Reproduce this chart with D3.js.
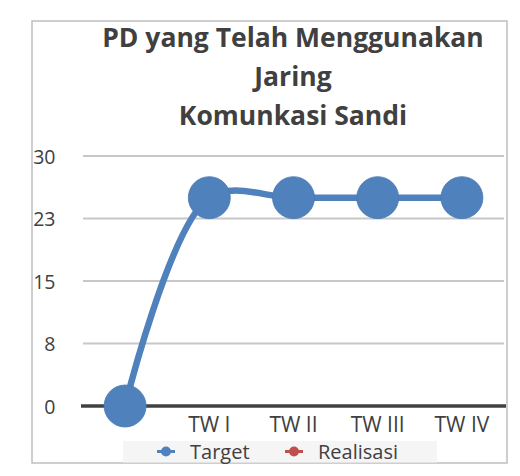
<!DOCTYPE html>
<html>
<head>
<meta charset="utf-8">
<script src="https://cdn.jsdelivr.net/npm/d3@7"></script>
<style>
  html, body { margin: 0; padding: 0; background: #fff; }
  svg { display: block; }
  text { font-family: "Open Sans", Lato, sans-serif; fill: #404040; }
</style>
</head>
<body>
<svg id="chart" width="520" height="476"></svg>
<script>
// Quarterly categories (first slot is the unlabeled starting point)
const categories = ["", "TW I", "TW II", "TW III", "TW IV"];
const target = [0, 25, 25, 25, 25];
const realisasi = [null, null, null, null, null];
const yTicks = [0, 7.5, 15, 22.5, 30];
const yTickLabels = ["0", "8", "15", "23", "30"];
const titleLines = ["PD yang Telah Menggunakan", "Jaring", "Komunkasi Sandi"];
const seriesNames = ["Target", "Realisasi"];
const seriesColors = ["#4f81bd", "#c0504d"];

const FONT = "'Open Sans', Lato, sans-serif";
const svg = d3.select("#chart");

// chart frame
svg.append("rect")
  .attr("x", 32).attr("y", 21)
  .attr("width", 475).attr("height", 442)
  .attr("fill", "#fff")
  .attr("stroke", "#bfbfbf").attr("stroke-width", 1.5);

// title
const title = svg.append("text")
  .attr("text-anchor", "middle")
  .attr("font-weight", "bold")
  .attr("font-size", 26.5);
titleLines.forEach((t, i) => {
  title.append("tspan").attr("x", 293).attr("y", 46.5 + i * 39).text(t);
});

const x = d3.scaleBand().domain(categories).range([83, 504]);
const y = d3.scaleLinear().domain([0, 30]).range([406, 156]);

// horizontal gridlines
svg.append("g").selectAll("line")
  .data(yTicks.filter(v => v !== 0))
  .join("line")
  .attr("x1", 83).attr("x2", 504)
  .attr("y1", d => y(d)).attr("y2", d => y(d))
  .attr("stroke", "#c8c8c8").attr("stroke-width", 2);

// y tick labels
const yAxis = d3.axisLeft(y)
  .tickValues(yTicks)
  .tickFormat((d, i) => yTickLabels[i])
  .tickSize(0).tickPadding(0);
const gy = svg.append("g").attr("transform", "translate(55.5,0)").call(yAxis);
gy.select(".domain").remove();
gy.selectAll("text")
  .attr("font-size", 19.5)
  .attr("fill", "#404040")
  .attr("font-family", FONT)
  .attr("dy", "0.36em");

// category axis at zero
const xAxis = d3.axisBottom(x).tickSize(0).tickPadding(0);
const gx = svg.append("g").attr("transform", `translate(0,${y(0)})`).call(xAxis);
gx.select(".domain")
  .attr("d", `M81,0H506`)
  .attr("stroke", "#404040").attr("stroke-width", 3.5);
gx.selectAll("text")
  .attr("font-size", 21)
  .attr("fill", "#404040")
  .attr("font-family", FONT)
  .attr("dy", 0)
  .attr("y", 26);

const cx = c => x(c) + x.bandwidth() / 2;

// smoothed series lines with markers
[target, realisasi].forEach((vals, si) => {
  const pts = categories.map((c, i) => ({ c, v: vals[i] })).filter(d => d.v != null);
  if (!pts.length) return;
  const line = d3.line()
    .x(d => cx(d.c)).y(d => y(d.v))
    .curve(d3.curveCatmullRom.alpha(0.5));
  svg.append("path")
    .datum(pts)
    .attr("d", line)
    .attr("fill", "none")
    .attr("stroke", seriesColors[si])
    .attr("stroke-width", 6.5)
    .attr("stroke-linejoin", "round");
  svg.append("g").selectAll("circle")
    .data(pts)
    .join("circle")
    .attr("cx", d => cx(d.c)).attr("cy", d => y(d.v))
    .attr("r", 21)
    .attr("fill", seriesColors[si])
    .attr("stroke", "#4a7ab3").attr("stroke-width", 0.8);
});

// legend
const lg = svg.append("g");
lg.append("rect")
  .attr("x", 123).attr("y", 441)
  .attr("width", 314).attr("height", 21.5)
  .attr("fill", "#f5f5f5");
const legendX = [157, 285];
seriesNames.forEach((name, i) => {
  const g = lg.append("g").attr("transform", `translate(${legendX[i]},451.5)`);
  g.append("line").attr("x1", 0).attr("x2", 18)
    .attr("stroke", seriesColors[i]).attr("stroke-width", 3);
  g.append("circle").attr("cx", 9).attr("r", 5).attr("fill", seriesColors[i]);
  g.append("text").attr("x", 33).attr("y", 7)
    .attr("font-size", 20).text(name);
});
</script>
</body>
</html>
